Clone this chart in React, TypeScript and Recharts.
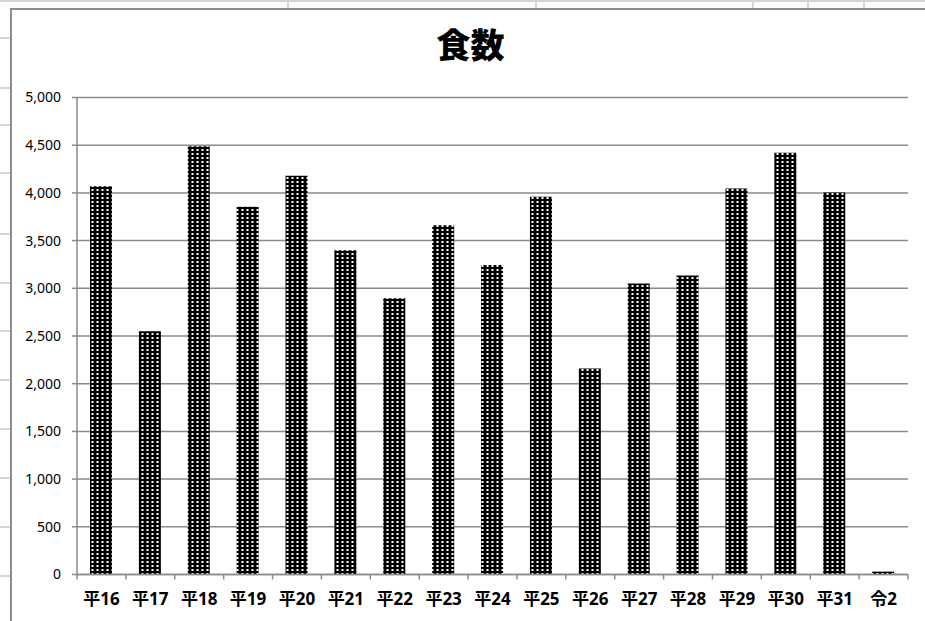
import React from 'react';
import { BarChart, Bar, XAxis, YAxis, CartesianGrid } from 'recharts';

const years = ['平16', '平17', '平18', '平19', '平20', '平21', '平22', '平23', '平24', '平25', '平26', '平27', '平28', '平29', '平30', '平31', '令2'];
const meals = [4070, 2550, 4490, 3855, 4180, 3400, 2895, 3660, 3245, 3960, 2160, 3050, 3135, 4045, 4420, 4005, 30];
const yTicks = [0, 500, 1000, 1500, 2000, 2500, 3000, 3500, 4000, 4500, 5000];

const data = years.map((name, i) => ({ name, value: meals[i] }));

const W = 925;
const H = 621;
const AXIS = '#8a8a8a';
const SHEET = '#d6d6d6';

// spreadsheet cell lines peeking around the chart frame
const sheetCols = [287, 535, 752, 807, 863];
const sheetRows = [37, 87, 124, 172, 233, 282, 330, 379, 428, 477, 526, 575];

const XTick = (props: any) => {
  const { x, y, payload, index, visibleTicksCount } = props;
  const half = payload && payload.offset ? payload.offset : (W - 77 - 17) / years.length / 2;
  const last = index === visibleTicksCount - 1;
  return (
    <g>
      <line x1={x - half} x2={x - half} y1={y} y2={y + 5} stroke={AXIS} strokeWidth={1.5} />
      {last && <line x1={x + half} x2={x + half} y1={y} y2={y + 5} stroke={AXIS} strokeWidth={1.5} />}
      <text
        x={x}
        y={y + 30}
        textAnchor="middle"
        fill="#000"
        fontSize={17}
        fontWeight={700}
        fontFamily='"Noto Sans", "Noto Sans CJK JP", sans-serif'
      >
        {payload.value}
      </text>
    </g>
  );
};

export default function App() {
  return (
    <div style={{ position: 'fixed', left: 0, top: 0, width: W, height: H, overflow: 'hidden', background: '#fff' }}>
      {/* sheet background */}
      <div style={{ position: 'absolute', left: 0, top: 0, width: W, height: 2, background: SHEET }} />
      {sheetCols.map((x) => (
        <div key={'c' + x} style={{ position: 'absolute', left: x, top: 0, width: 2, height: 8, background: SHEET }} />
      ))}
      {sheetRows.map((y) => (
        <div key={'r' + y} style={{ position: 'absolute', left: 0, top: y, width: 10, height: 2, background: SHEET }} />
      ))}

      {/* chart frame */}
      <div style={{ position: 'absolute', left: 10, top: 8, width: W + 40, height: H + 40, border: '2px solid #8c8c8c', background: '#fff' }} />

      <svg width={0} height={0} style={{ position: 'absolute' }}>
        <defs>
          <pattern id="dots" patternUnits="userSpaceOnUse" width={5} height={4}>
            <rect width={5} height={4} fill="#000" />
            <rect x={1.5} y={1} width={2} height={2} fill="#fff" />
          </pattern>
        </defs>
      </svg>

      <div
        style={{
          position: 'absolute',
          left: 0,
          top: 20,
          width: W,
          textAlign: 'center',
          fontSize: 34,
          fontWeight: 900,
          fontFamily: '"Noto Sans CJK JP", sans-serif',
          color: '#000',
          paddingLeft: 8,
          lineHeight: '48px',
        }}
      >
        食数
      </div>

      <div style={{ position: 'absolute', left: 0, top: 0 }}>
        <BarChart
          width={W}
          height={H}
          data={data}
          margin={{ top: 97.5, right: 17, left: 17, bottom: 16.5 }}
          barSize={22}
        >
          <CartesianGrid vertical={false} stroke={AXIS} strokeWidth={1.5} />
          <XAxis
            dataKey="name"
            height={30}
            interval={0}
            tickSize={0}
            tickMargin={0}
            tickLine={false}
            axisLine={{ stroke: AXIS, strokeWidth: 1.5 }}
            tick={<XTick />}
          />
          <YAxis
            width={60}
            domain={[0, 5000]}
            ticks={yTicks}
            interval={0}
            tickSize={5}
            tickMargin={11}
            tickLine={{ stroke: AXIS, strokeWidth: 1.5 }}
            axisLine={{ stroke: AXIS, strokeWidth: 1.5 }}
            tickFormatter={(v: number) => v.toLocaleString('en-US')}
            tick={{ fill: '#000', fontSize: 14, fontFamily: '"Noto Sans", sans-serif' }}
          />
          <Bar dataKey="value" fill="url(#dots)" isAnimationActive={false} />
        </BarChart>
      </div>
    </div>
  );
}
